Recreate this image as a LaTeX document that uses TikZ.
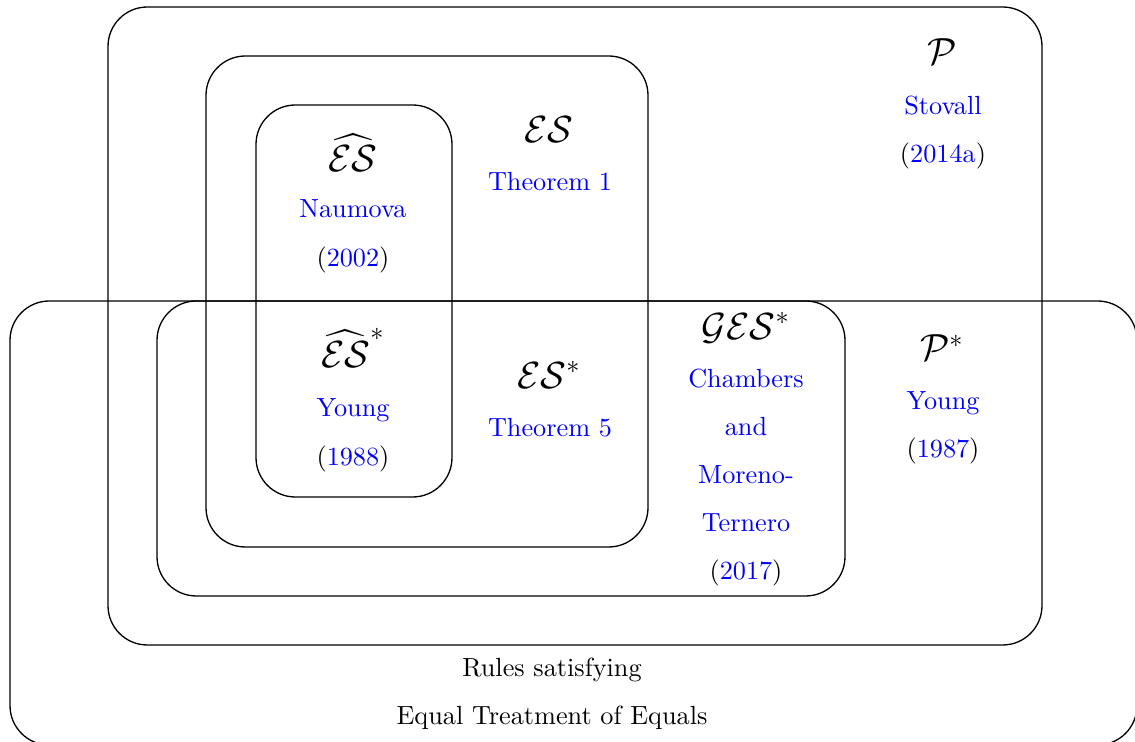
\documentclass[tikz,border=0pt]{standalone}
\usepackage{amsmath,amssymb}
\usetikzlibrary{positioning}
\definecolor{citeblue}{RGB}{0,0,255}
\newcommand{\citeyr}[1]{(\textcolor{citeblue}{#1})}
\tikzset{
  setbox/.style={draw=black, line width=0.5pt, rounded corners=15pt},
  setname/.style={font=\Large, inner sep=0pt, anchor=base},
  reftxt/.style={inner sep=0pt, anchor=base, text=citeblue},
  plain/.style={inner sep=0pt, anchor=base},
}

\begin{document}
\begin{tikzpicture}[x=0.381pt,y=-0.381pt]
      \useasboundingbox (0,0) rectangle (1135,742);
      % the sets
      \draw[setbox] (10,301) rectangle (1137,745);
      \draw[setbox] (108,7) rectangle (1042,645);
      \draw[setbox] (206,56) rectangle (648,547);
      \draw[setbox] (256,105) rectangle (452,497);
      \draw[setbox] (157,301) rectangle (845,596);
      % upper half
      \node[setname] (eshat) at (353,172) {$\widehat{\mathcal{ES}}$};
      \node[reftxt] (naumova) at (353,218) {Naumova};
      \node[plain] (naumovayr) at (353,267) {\citeyr{2002}};
      \node[setname] (es) at (549,143) {$\mathcal{ES}$};
      \node[reftxt] (thmone) at (550,191) {Theorem 1};
      \node[setname] (p) at (942,65) {$\mathcal{P}$};
      \node[reftxt] (stovall) at (943,115) {Stovall};
      \node[plain] (stovallyr) at (943,163) {\citeyr{2014a}};
      % lower half
      \node[setname] (eshatstar) at (353,368) {$\widehat{\mathcal{ES}}^*$};
      \node[reftxt] (youngb) at (353,417) {Young};
      \node[plain] (youngbyr) at (353,466) {\citeyr{1988}};
      \node[setname] (esstar) at (549,389) {$\mathcal{ES}^*$};
      \node[reftxt] (thmfive) at (550,437) {Theorem 5};
      \node[setname] (gesstar) at (746,340) {$\mathcal{GES}^*$};
      \node[reftxt] (chambers) at (746,388) {Chambers};
      \node[reftxt] (and) at (746,436) {and};
      \node[reftxt] (moreno) at (746,484) {Moreno-};
      \node[reftxt] (ternero) at (746,532) {Ternero};
      \node[plain] (chambersyr) at (746,580) {\citeyr{2017}};
      \node[setname] (pstar) at (942,361) {$\mathcal{P}^*$};
      \node[reftxt] (younga) at (943,410) {Young};
      \node[plain] (youngayr) at (943,458) {\citeyr{1987}};
      % caption of the wide set
      \node[plain] (rules) at (552,677) {Rules satisfying};
      \node[plain] (ete) at (552,725) {Equal Treatment of Equals};
    \end{tikzpicture}
\end{document}
